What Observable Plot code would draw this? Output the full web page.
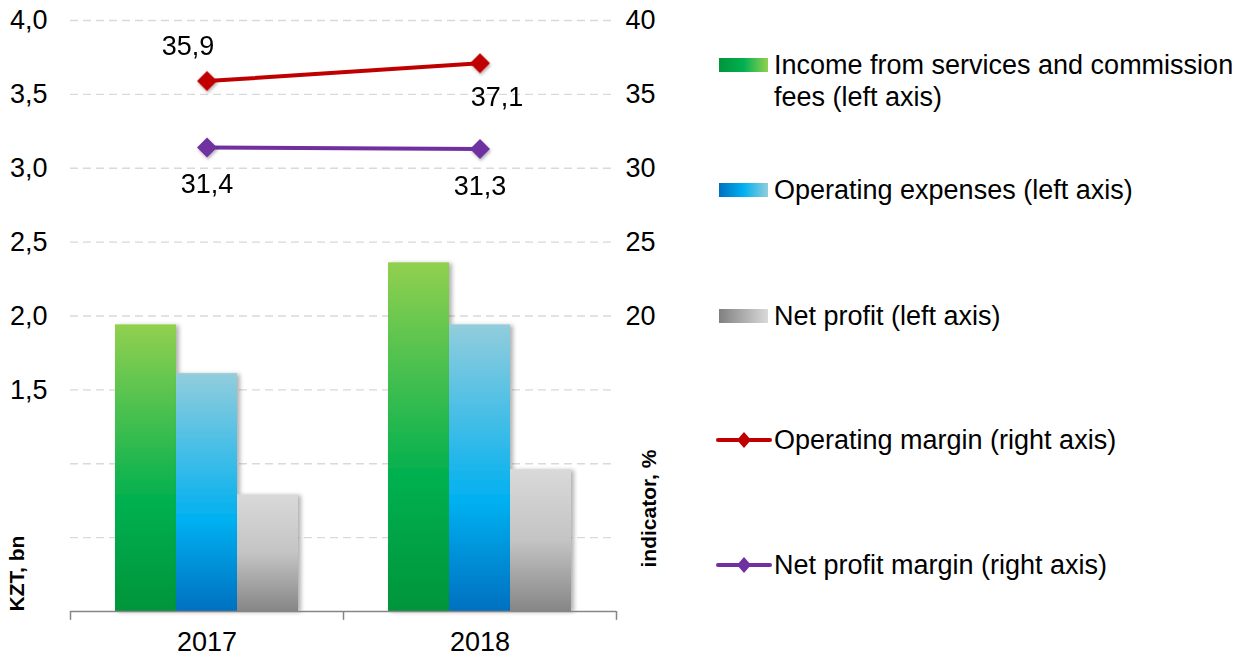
<!DOCTYPE html>
<html>
<head>
<meta charset="utf-8">
<script src="https://cdn.jsdelivr.net/npm/d3@7"></script>
<script src="https://cdn.jsdelivr.net/npm/@observablehq/plot@0.6"></script>
<style>
  html, body { margin: 0; padding: 0; background: #fff; }
  body { font-family: "Liberation Sans", Arial, sans-serif; color: #000; }
  #wrap { position: relative; width: 1251px; height: 662px; overflow: hidden; }
  #chart { position: absolute; left: 0; top: 0; }
  .lg-item { position: absolute; left: 716px; display: flex; align-items: flex-start; }
  .lg-sw { width: 56px; height: 32px; flex: none; }
  .lg-text { font-size: 27px; line-height: 32px; max-width: 472px; color: #000; }
</style>
</head>
<body>
<div id="wrap">
  <div id="chart"></div>
  <div id="legend"></div>
</div>
<script>
// ---------- data ----------
const years = ["2017", "2018"];
const barNames = [
  "Income from services and commission fees (left axis)",
  "Operating expenses (left axis)",
  "Net profit (left axis)"
];
const income = [1.94, 2.36];          // KZT bn
const operatingExpenses = [1.61, 1.94];
const netProfit = [0.79, 0.96];
const lineNames = ["Operating margin (right axis)", "Net profit margin (right axis)"];
const operatingMargin = [35.9, 37.1]; // %
const netProfitMargin = [31.4, 31.3];
const leftTicks = [1.5, 2.0, 2.5, 3.0, 3.5, 4.0];
const gridTicks = [0.5, 1.0, 1.5, 2.0, 2.5, 3.0, 3.5, 4.0];
const rightTicks = [20, 25, 30, 35, 40];

// ---------- helpers ----------
const fmt1 = v => v.toFixed(1).replace(".", ",");
const RATIO = 10; // right axis (%) = left axis value * 10
const FS = 27;

const W = 680, H = 662;
const mL = 70, mR = W - 616, mT = 20, mB = 51;
const bandW = (W - mL - mR) / years.length;
const barW = 61;
const inset = (bandW - barW) / 2;

const barSeries = [income, operatingExpenses, netProfit];
const barFills = ["url(#gGreen)", "url(#gBlue)", "url(#gGray)"];
const lineSeries = [operatingMargin, netProfitMargin];
const lineColors = ["#C00000", "#7030A0"];

const rows = (vals) => years.map((y, i) => ({year: y, value: vals[i], i}));

const marks = [
  Plot.gridY(gridTicks, {stroke: "#d9d9d9", strokeOpacity: 1, strokeWidth: 1.3, strokeDasharray: "8,5"}),
  ...barSeries.map((vals, s) => Plot.barY(rows(vals), {
    x: "year", y: "value", fill: barFills[s],
    dx: (s - 1) * barW, insetLeft: inset, insetRight: inset
  })),
  Plot.ruleY([0], {stroke: "#868686", strokeWidth: 1.5}),
  Plot.ruleX(years, {x: d => d, dx: -bandW / 2, y1: 0, y2: -0.06, stroke: "#868686", strokeWidth: 1.5}),
  Plot.ruleX(years.slice(-1), {x: d => d, dx: bandW / 2, y1: 0, y2: -0.06, stroke: "#868686", strokeWidth: 1.5}),
  ...lineSeries.map((vals, s) => Plot.line(rows(vals), {
    x: "year", y: d => d.value / RATIO, stroke: lineColors[s], strokeWidth: 4
  })),
  ...lineSeries.map((vals, s) => Plot.dot(rows(vals), {
    x: "year", y: d => d.value / RATIO, symbol: "diamond2", r: 9, fill: lineColors[s], stroke: "none"
  })),
  // value labels
  Plot.text(rows(operatingMargin).filter(d => d.i === 0), {x: "year", y: d => d.value / RATIO, text: d => fmt1(d.value), dx: -19, dy: -35, fontSize: FS, fill: "#000"}),
  Plot.text(rows(operatingMargin).filter(d => d.i === 1), {x: "year", y: d => d.value / RATIO, text: d => fmt1(d.value), dx: 17, dy: 34, fontSize: FS, fill: "#000"}),
  Plot.text(rows(netProfitMargin), {x: "year", y: d => d.value / RATIO, text: d => fmt1(d.value), dy: 37, fontSize: FS, fill: "#000"}),
  // axes
  Plot.axisY(leftTicks, {anchor: "left", tickSize: 0, tickPadding: 23, tickFormat: fmt1, label: null, fontSize: FS}),
  Plot.axisY(rightTicks.map(v => v / RATIO), {anchor: "right", tickSize: 0, tickPadding: 9, tickFormat: d => String(Math.round(d * RATIO)), label: null, fontSize: FS}),
  Plot.axisX({tickSize: 0, tickPadding: 20, label: null, fontSize: FS}),
  // axis titles
  Plot.text(["KZT, bn"], {frameAnchor: "bottom-left", text: d => d, rotate: -90, textAnchor: "start", dx: -47, fontWeight: "bold", fontSize: 21, fill: "#000"}),
  Plot.text(["indicator, %"], {frameAnchor: "bottom-right", text: d => d, rotate: -90, textAnchor: "start", dx: 39, dy: -44, fontWeight: "bold", fontSize: 21, fill: "#000"})
];

const svg = Plot.plot({
  width: W, height: H,
  marginLeft: mL, marginRight: mR, marginTop: mT, marginBottom: mB,
  style: {fontFamily: "'Liberation Sans', Arial, sans-serif", fontSize: FS + "px", color: "#000", background: "transparent", overflow: "visible"},
  x: {domain: years, padding: 0, axis: null},
  y: {domain: [0, 4], axis: null},
  marks
});

// gradients + shadow
const defs = d3.select(svg).insert("defs", ":first-child");
function vGrad(id, stops) {
  const g = defs.append("linearGradient").attr("id", id).attr("x1", 0).attr("y1", 0).attr("x2", 0).attr("y2", 1);
  stops.forEach(([o, c]) => g.append("stop").attr("offset", o).attr("stop-color", c));
}
vGrad("gGreen", [[0, "#92D050"], [0.62, "#00B050"], [1, "#00953A"]]);
vGrad("gBlue", [[0, "#92CDDC"], [0.62, "#00B0F0"], [1, "#0070C0"]]);
vGrad("gGray", [[0, "#D9D9D9"], [0.5, "#C4C4C4"], [1, "#868686"]]);
const f = defs.append("filter").attr("id", "shadow").attr("x", "-10%").attr("y", "-10%").attr("width", "130%").attr("height", "130%");
f.append("feDropShadow").attr("dx", 3).attr("dy", 1).attr("stdDeviation", 2).attr("flood-color", "#000").attr("flood-opacity", 0.3);
d3.select(svg).selectAll('g[aria-label="bar"]').attr("filter", "url(#shadow)");
const f2 = defs.append("filter").attr("id", "shadow2").attr("x", "-50%").attr("y", "-50%").attr("width", "200%").attr("height", "200%");
f2.append("feDropShadow").attr("dx", 1).attr("dy", 2).attr("stdDeviation", 1.5).attr("flood-color", "#000").attr("flood-opacity", 0.3);
d3.select(svg).selectAll('g[aria-label="dot"]').attr("filter", "url(#shadow2)");

document.getElementById("chart").appendChild(svg);

// ---------- legend ----------
const legendCenters = [65, 190, 316, 440, 565];
const hGrads = [
  [["0", "#00953A"], ["0.5", "#00B050"], ["1", "#92D050"]],
  [["0", "#0070C0"], ["0.5", "#00B0F0"], ["1", "#92CDDC"]],
  [["0", "#808080"], ["1", "#D9D9D9"]]
];
const legend = document.getElementById("legend");
const items = [
  ...barNames.map((n, i) => ({name: n, kind: "bar", i})),
  ...lineNames.map((n, i) => ({name: n, kind: "line", i}))
];
items.forEach((it, k) => {
  const div = document.createElement("div");
  div.className = "lg-item";
  div.style.top = (legendCenters[k] - 16) + "px";
  let sw;
  if (it.kind === "bar") {
    const stops = hGrads[it.i].map(([o, c]) => `<stop offset="${o}" stop-color="${c}"/>`).join("");
    sw = `<svg class="lg-sw" width="56" height="32"><defs><linearGradient id="lg${it.i}" x1="0" x2="1" y1="0" y2="0">${stops}</linearGradient></defs><rect x="3" y="9" width="49" height="14" fill="url(#lg${it.i})"/></svg>`;
  } else {
    const c = lineColors[it.i];
    sw = `<svg class="lg-sw" width="56" height="32"><line x1="2" x2="54" y1="16" y2="16" stroke="${c}" stroke-width="4" stroke-linecap="round"/><path d="M28,8 L35,16 L28,24 L21,16 Z" fill="${c}"/></svg>`;
  }
  div.innerHTML = sw + `<div class="lg-text"></div>`;
  div.querySelector(".lg-text").textContent = it.name;
  div.querySelector(".lg-text").style.marginLeft = "2px";
  legend.appendChild(div);
});
</script>
</body>
</html>
